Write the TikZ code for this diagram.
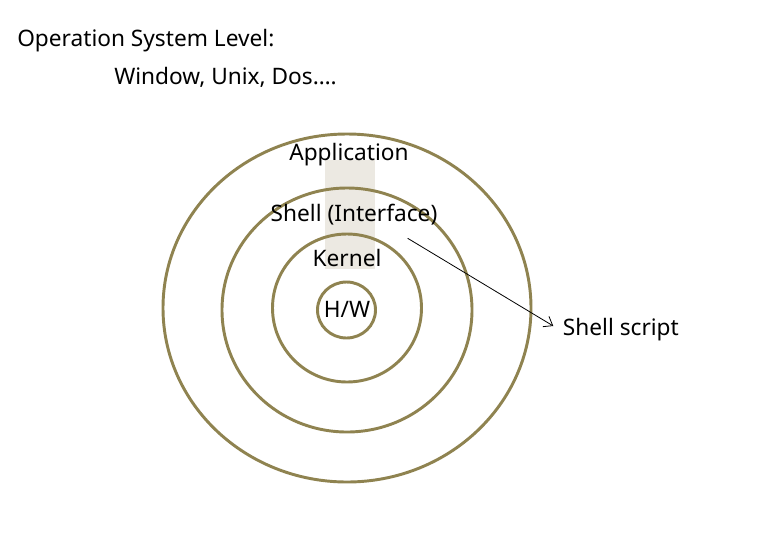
\documentclass[tikz,border=0pt]{standalone}
\usepackage{fontspec}
\setmainfont{Noto Sans}
\usetikzlibrary{arrows.meta}
\definecolor{ring}{HTML}{8F8350}
\definecolor{band}{HTML}{ECE9E2}
\tikzset{
  ringline/.style={draw=ring, line width=2.2pt},
  lbl/.style={inner sep=0pt, font=\fontsize{17}{20}\selectfont, text=black},
  pointer/.style={draw=black, line width=0.6pt, -{Straight Barb[length=6pt,width=9pt]}}
}
\begin{document}
\begin{tikzpicture}[x=0.75pt,y=-0.75pt]
\useasboundingbox (0,0) rectangle (757,533);
\fill[white] (0,0) rectangle (757,533);
\fill[band] (325,160) rectangle (375,269);
\draw[ringline] (347,308) ellipse [x radius=184, y radius=174];
\draw[ringline] (347,310) ellipse [x radius=125, y radius=122];
\draw[ringline] (347,308) ellipse [x radius=74.5, y radius=74];
\draw[ringline] (346.5,310) ellipse [x radius=29, y radius=28];
\node[lbl, anchor=base west] (os) at (17,46.7) {Operation System Level:};
\node[lbl, anchor=base west] (win) at (114,84) {Window, Unix, Dos….};
\node[lbl, anchor=base] (app) at (349,160.7) {Application};
\node[lbl, anchor=base] (shell) at (354,221.7) {Shell (Interface)};
\node[lbl, anchor=base] (kern) at (347,266.7) {Kernel};
\node[lbl, anchor=base] (hw) at (347,317.3) {H/W};
\node[lbl, anchor=base west] (ss) at (562.7,335) {Shell script};
\coordinate (from) at (407.7,238.3);
\coordinate (to) at (553.3,326);
\draw[pointer] (from) -- (to);
\end{tikzpicture}
\end{document}
